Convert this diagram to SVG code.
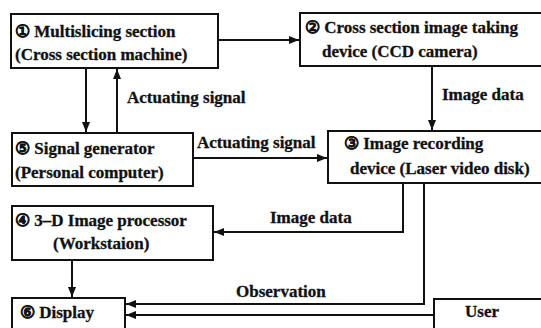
<svg xmlns="http://www.w3.org/2000/svg" width="541" height="328" viewBox="0 0 541 328">
<style>
.box{fill:#fff;stroke:#111;stroke-width:2}
.t{font-weight:bold;font-size:17px;fill:#111;stroke:#111;stroke-width:0.3}
.c{fill:none;stroke:#111;stroke-width:2}
</style>
<defs>
<marker id="a" markerUnits="userSpaceOnUse" markerWidth="10" markerHeight="8" refX="10" refY="4" orient="auto">
<path d="M0,0 L10,4 L0,8 Z" fill="#111"/>
</marker>
</defs>
<rect width="541" height="328" fill="#fff"/>
<g font-family="'Liberation Serif', 'Times New Roman', 'DejaVu Serif', serif">
<g id="connectors">
<line class="c" x1="218" y1="40" x2="299" y2="40" marker-end="url(#a)"/>
<line class="c" x1="86" y1="68" x2="86" y2="132" marker-end="url(#a)"/>
<line class="c" x1="117" y1="133" x2="117" y2="69" marker-end="url(#a)"/>
<line class="c" x1="432" y1="66" x2="432" y2="130" marker-end="url(#a)"/>
<line class="c" x1="193" y1="158" x2="327" y2="158" marker-end="url(#a)"/>
<polyline class="c" points="403,183 403,232 214,232" marker-end="url(#a)"/>
<polyline class="c" points="424,183 424,304 126,304" marker-end="url(#a)"/>
<line class="c" x1="434" y1="315" x2="126" y2="315" marker-end="url(#a)"/>
<line class="c" x1="72" y1="260" x2="72" y2="297" marker-end="url(#a)"/>
<text class="t" x="127" y="103">Actuating signal</text>
<text class="t" x="442" y="100">Image data</text>
<text class="t" x="197" y="148">Actuating signal</text>
<text class="t" x="270" y="223">Image data</text>
<text class="t" x="236" y="297">Observation</text>
</g>
<g id="n1">
<rect class="box" x="11" y="14" width="207" height="54"/>
<text class="t" x="15" y="37">① Multislicing section</text>
<text class="t" x="15" y="60">(Cross section machine)</text>
</g>
<g id="n2">
<rect class="box" x="300" y="13" width="250" height="53"/>
<text class="t" x="305" y="33">② Cross section image taking</text>
<text class="t" x="322" y="57">device (CCD camera)</text>
</g>
<g id="n3">
<rect class="box" x="328" y="131" width="222" height="52"/>
<text class="t" x="344" y="149">③ Image recording</text>
<text class="t" x="350" y="174">device (Laser video disk)</text>
</g>
<g id="n5">
<rect class="box" x="12" y="133" width="181" height="53"/>
<text class="t" x="15" y="154">⑤ Signal generator</text>
<text class="t" x="15" y="178">(Personal computer)</text>
</g>
<g id="n4">
<rect class="box" x="12" y="206" width="201" height="54"/>
<text class="t" x="15" y="226">④ 3–D Image processor</text>
<text class="t" x="53" y="249">(Workstaion)</text>
</g>
<g id="n6">
<rect class="box" x="12" y="298" width="113" height="40"/>
<text class="t" x="20" y="318">⑥ Display</text>
</g>
<g id="user">
<rect class="box" x="434" y="299" width="120" height="40"/>
<text class="t" x="465" y="317">User</text>
</g>
</g>
</svg>
